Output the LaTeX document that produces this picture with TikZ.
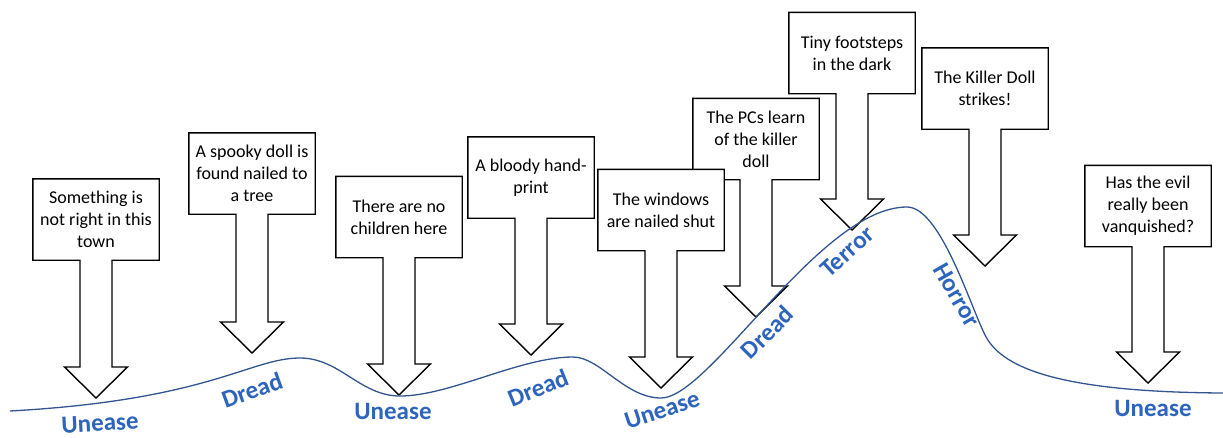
\documentclass[tikz,border=0pt]{standalone}
\usepackage{fontspec}
\setmainfont{Carlito}
\usetikzlibrary{backgrounds}
\definecolor{moodblue}{RGB}{45,100,190}
\definecolor{curveblue}{RGB}{50,85,145}
\newcommand\storybeat[5]{% name, cx, cy, tip y, text
  \node[boxtext] (#1) at (#2,#3) {#5};
  \coordinate (#1tip) at (#2,#4);
  \begin{scope}[on background layer]
    \draw[calloutline] (#1.north west) -- (#1.north east) -- (#1.south east)
      -- ([xshift=16pt]#1.south) -- ([xshift=16pt,yshift=31pt]#1tip)
      -- ([xshift=31.5pt,yshift=31pt]#1tip) -- (#1tip)
      -- ([xshift=-31.5pt,yshift=31pt]#1tip) -- ([xshift=-16pt,yshift=31pt]#1tip)
      -- ([xshift=-16pt]#1.south) -- (#1.south west) -- cycle;
  \end{scope}}
\begin{document}
\begin{tikzpicture}[x=1pt,y=-1pt,
  boxtext/.style={minimum width=126pt, minimum height=81pt, inner sep=0pt,
    align=center, font=\fontsize{18}{22}\selectfont},
  calloutline/.style={draw=black, fill=white, line width=1.4pt, line join=miter},
  mood/.style={font=\bfseries\fontsize{25}{25}\selectfont, text=moodblue, inner sep=0pt},
  plotline/.style={draw=curveblue, line width=1.3pt}]
\useasboundingbox (0,0) rectangle (1223,437);

\storybeat{b1}{96}{219.5}{398}{Something is\\not right in this\\town}
\storybeat{b2}{252}{173.5}{353}{A spooky doll is\\found nailed to\\a tree}
\storybeat{b3}{399}{217}{395}{There are no\\children here}
\storybeat{b4}{531}{177.5}{355}{A bloody hand-\\print}
\storybeat{b6}{756}{139}{317}{The PCs learn\\of the killer\\doll}
\storybeat{b5}{661}{210}{388}{The windows\\are nailed shut}
\storybeat{b7}{852}{53}{230}{Tiny footsteps\\in the dark}
\storybeat{b8}{985}{88.5}{266}{The Killer Doll\\strikes!}
\storybeat{b9}{1148}{206}{383}{Has the evil\\really been\\vanquished?}

\coordinate (c0) at (10,411);
\coordinate (c1) at (300,358);
\coordinate (c2) at (400,396);
\coordinate (c3) at (573,357);
\coordinate (c4) at (661,398);
\coordinate (c5) at (907,207);
\coordinate (c6) at (985,335);
\coordinate (c7) at (1223,393);
\draw[plotline] (c0) .. controls (210,400) and (250,358) .. (c1)
  .. controls (340,358) and (360,396) .. (c2)
  .. controls (450,396) and (520,357) .. (c3)
  .. controls (600,357) and (625,398) .. (c4)
  .. controls (710,398) and (820,207) .. (c5)
  .. controls (940,207) and (970,305) .. (c6)
  .. controls (1000,365) and (1050,392) .. (c7);

\node[mood, rotate=3]   (m1) at (100,423) {Unease};
\node[mood, rotate=20]  (m2) at (252,390) {Dread};
\node[mood]             (m3) at (393,411) {Unease};
\node[mood, rotate=22]  (m4) at (538,388) {Dread};
\node[mood, rotate=18]  (m5) at (662,410) {Unease};
\node[mood, rotate=45]  (m6) at (767,332) {Dread};
\node[mood, rotate=42]  (m7) at (847,252) {Terror};
\node[mood, rotate=-60] (m8) at (957,295) {Horror};
\node[mood]             (m9) at (1153,408) {Unease};
\end{tikzpicture}
\end{document}
